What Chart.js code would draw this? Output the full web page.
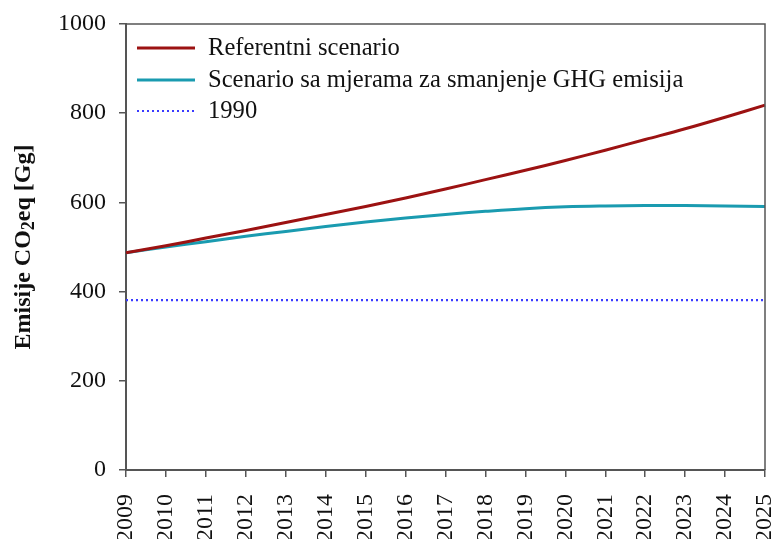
<!DOCTYPE html>
<html>
<head>
<meta charset="utf-8">
<script src="https://cdn.jsdelivr.net/npm/chart.js@4"></script>
<style>
  html, body { margin: 0; padding: 0; background: #fff; }
  #wrap { width: 775px; height: 539px; }
</style>
</head>
<body>
<div id="wrap"><canvas id="line-chart" width="775" height="539"></canvas></div>
<script>
var years = ["2009", "2010", "2011", "2012", "2013", "2014", "2015", "2016", "2017",
             "2018", "2019", "2020", "2021", "2022", "2023", "2024", "2025"];
var referentni = [487, 503, 520, 537, 555, 573, 591, 610, 630, 651, 672, 694, 717, 741, 765, 791, 818];
var mjere = [487, 500, 512, 524, 535, 546, 556, 565, 573, 580, 586, 590, 592, 593, 593, 592, 591];
var baseline1990 = [381, 381, 381, 381, 381, 381, 381, 381, 381, 381, 381, 381, 381, 381, 381, 381, 381];
var yTicks = [0, 200, 400, 600, 800, 1000];

var serif = "'Liberation Serif', 'Times New Roman', serif";
var axisColor = "#555555";

// frame on the top and right side of the plot
var framePlugin = {
    id: "frame",
    afterDraw: function (chart) {
        var a = chart.chartArea, ctx = chart.ctx;
        ctx.save();
        ctx.strokeStyle = axisColor;
        ctx.lineWidth = 1.5;
        ctx.beginPath();
        ctx.moveTo(a.left, a.top);
        ctx.lineTo(a.right, a.top);
        ctx.lineTo(a.right, a.bottom);
        ctx.stroke();
        ctx.restore();
    }
};

// legend drawn inside the plot, top-left
var legendPlugin = {
    id: "insideLegend",
    afterDraw: function (chart) {
        var ctx = chart.ctx;
        var rows = [48, 80, 111];
        ctx.save();
        ctx.font = "24.6px " + serif;
        ctx.textBaseline = "middle";
        chart.data.datasets.forEach(function (ds, i) {
            var y = rows[i];
            ctx.strokeStyle = ds.borderColor;
            ctx.lineWidth = ds.borderWidth;
            ctx.setLineDash(ds.borderDash || []);
            ctx.beginPath();
            ctx.moveTo(137, y);
            ctx.lineTo(195, y);
            ctx.stroke();
            ctx.setLineDash([]);
            ctx.fillStyle = "#111";
            ctx.fillText(ds.label, 208, y + 1);
        });
        ctx.restore();
    }
};

// rotated y title with a subscript 2
var yTitlePlugin = {
    id: "yTitle",
    afterDraw: function (chart) {
        var ctx = chart.ctx, a = chart.chartArea;
        var big = "bold 24px " + serif, small = "bold 18px " + serif;
        var parts = [["Emisije CO", big, 0], ["2", small, 4], ["eq [Gg]", big, 0]];
        var total = 0;
        parts.forEach(function (p) { ctx.font = p[1]; total += ctx.measureText(p[0]).width; });
        ctx.save();
        ctx.translate(30, (a.top + a.bottom) / 2);
        ctx.rotate(-Math.PI / 2);
        ctx.fillStyle = "#111";
        ctx.textBaseline = "alphabetic";
        var x = -total / 2;
        parts.forEach(function (p) {
            ctx.font = p[1];
            ctx.fillText(p[0], x, p[2]);
            x += ctx.measureText(p[0]).width;
        });
        ctx.restore();
    }
};

var ctx = document.getElementById("line-chart").getContext("2d");
var chart = new Chart(ctx, {
    type: "line",
    data: {
        labels: years,
        datasets: [{
            label: "Referentni scenario",
            data: referentni,
            borderColor: "#9c1212",
            borderWidth: 3,
            pointRadius: 0,
            tension: 0.4,
            fill: false
        }, {
            label: "Scenario sa mjerama za smanjenje GHG emisija",
            data: mjere,
            borderColor: "#1a9bb0",
            borderWidth: 3,
            pointRadius: 0,
            tension: 0.4,
            fill: false
        }, {
            label: "1990",
            data: baseline1990,
            borderColor: "#3a3aff",
            borderWidth: 2.2,
            borderDash: [2, 3],
            pointRadius: 0,
            fill: false
        }]
    },
    options: {
        responsive: false,
        animation: false,
        layout: { padding: { top: 24, right: 10, left: 0, bottom: 0 } },
        plugins: {
            legend: { display: false },
            tooltip: { enabled: false }
        },
        scales: {
            x: {
                type: "category",
                offset: false,
                grid: { drawOnChartArea: false, drawTicks: true, tickLength: 7, color: axisColor, lineWidth: 1.5 },
                border: { color: axisColor, width: 2 },
                ticks: {
                    color: "#111",
                    font: { family: serif, size: 24 },
                    minRotation: 90,
                    maxRotation: 90,
                    autoSkip: false,
                    padding: 17
                },
                afterFit: function (scale) {
                    scale.height = 69;
                    scale.paddingLeft = 0;
                    scale.paddingRight = 0;
                }
            },
            y: {
                min: 0,
                max: 1000,
                afterBuildTicks: function (scale) {
                    scale.ticks = yTicks.map(function (v) { return { value: v }; });
                },
                grid: { drawOnChartArea: false, drawTicks: true, tickLength: 7, color: axisColor, lineWidth: 1.5 },
                border: { color: axisColor, width: 2 },
                ticks: {
                    color: "#111",
                    font: { family: serif, size: 24 },
                    padding: 13,
                    callback: function (v) { return String(v); }
                },
                afterFit: function (scale) {
                    scale.width = 126;
                    scale.paddingTop = 0;
                    scale.paddingBottom = 0;
                }
            }
        }
    },
    plugins: [framePlugin, legendPlugin, yTitlePlugin]
});
</script>
</body>
</html>
